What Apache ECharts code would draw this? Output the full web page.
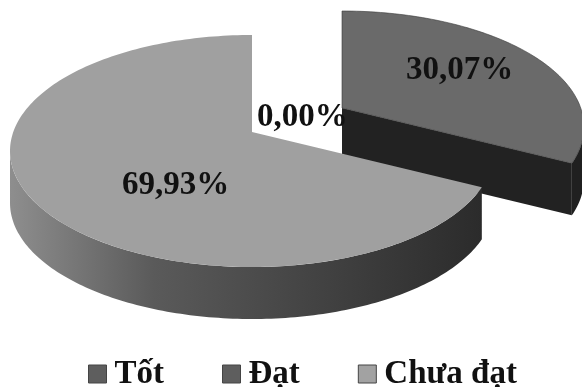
<!DOCTYPE html>
<html>
<head>
<meta charset="utf-8">
<script src="https://cdn.jsdelivr.net/npm/echarts@6/dist/echarts.min.js"></script>
<style>
  html, body { margin: 0; padding: 0; background: #fff; }
  #chart { width: 582px; height: 387px; }
</style>
</head>
<body>
<div id="chart"></div>
<script>
const categories = ['Tốt', 'Đạt', 'Chưa đạt'];
const values = [0, 30.07, 69.93];

const total = values.reduce((a, b) => a + b, 0);

// projected pie geometry (Excel-like 3D pie)
const CX = 252, CY = 151, RX = 242, RY = 116, APEX_DY = -19, DEPTH = 52;
const explode = [[0, 0], [90, -24], [0, 0]];
const topColors = ['#626262', '#6a6a6a', '#a0a0a0'];
const legendColors = ['#5e5e5e', '#5e5e5e', '#a2a2a2'];
const labelFrac = [[0, 0], [0.6, 0.76], [0.39, 0.61]];
const labelFont = 'bold 33px "Liberation Serif", "DejaVu Serif", serif';

function fmt(v) {
  return v.toFixed(2).replace('.', ',') + '%';
}

function sideFill(i) {
  if (i === 2) {
    return new echarts.graphic.LinearGradient(10, 0, 490, 0, [
      { offset: 0, color: '#8e8e8e' },
      { offset: 0.3, color: '#5a5a5a' },
      { offset: 1, color: '#2a2a2a' }
    ], true);
  }
  return '#202020';
}

function renderSlice(params, api) {
  const i = params.seriesIndex;
  const value = api.value(0);
  let before = 0;
  for (let k = 0; k < i; k++) before += values[k];
  const a0 = before / total * Math.PI * 2;
  const a1 = a0 + value / total * Math.PI * 2;
  const ox = explode[i][0], oy = explode[i][1];

  const rim = (t, dy) => [CX + ox + RX * Math.sin(t), CY + oy - RY * Math.cos(t) + dy];
  const apex = dy => [CX + ox, CY + APEX_DY + oy + dy];
  const arc = (from, to, dy) => {
    const pts = [];
    const n = Math.max(2, Math.ceil(Math.abs(to - from) / 0.02));
    for (let k = 0; k <= n; k++) pts.push(rim(from + (to - from) * k / n, dy));
    return pts;
  };

  const children = [];
  if (value > 0) {
    // radial cut faces that face the viewer
    [[a0, -1], [a1, 1]].forEach(([t, dir]) => {
      const phi = t + dir * Math.PI / 2;
      if (Math.cos(phi) < -1e-6) {
        children.push({
          type: 'polygon',
          shape: { points: [apex(0), rim(t, 0), rim(t, DEPTH), apex(DEPTH)] },
          style: { fill: '#222222' },
          z2: i * 10
        });
      }
    });
    // outer side, front half only
    const s0 = Math.max(a0, Math.PI / 2), s1 = Math.min(a1, Math.PI * 1.5);
    if (s1 > s0) {
      const pts = arc(s0, s1, 0).concat(arc(s1, s0, DEPTH));
      children.push({
        type: 'polygon',
        shape: { points: pts },
        style: { fill: sideFill(i) },
        z2: i * 10 + 1
      });
    }
    // top face
    children.push({
      type: 'polygon',
      shape: { points: [apex(0)].concat(arc(a0, a1, 0)) },
      style: { fill: topColors[i], stroke: i === 1 ? '#3a3a3a' : null, lineWidth: 0.6 },
      z2: i * 10 + 2
    });
    const mid = (a0 + a1) / 2;
    const p = rim(mid, 0), c = apex(0);
    children.push({
      type: 'text',
      style: {
        text: fmt(value),
        x: c[0] + (p[0] - c[0]) * labelFrac[i][0],
        y: c[1] + (p[1] - c[1]) * labelFrac[i][1],
        font: labelFont, fill: '#111', align: 'center', verticalAlign: 'middle'
      },
      z2: 100
    });
  } else {
    // empty slice: label beside the apex
    const c = apex(0);
    children.push({
      type: 'text',
      style: {
        text: fmt(value), x: c[0] + 5, y: c[1] - 15,
        font: labelFont, fill: '#111', align: 'left', verticalAlign: 'middle'
      },
      z2: 100
    });
  }
  return { type: 'group', children };
}

const chart = echarts.init(document.getElementById('chart'), null, { renderer: 'canvas' });

chart.setOption({
  animation: false,
  backgroundColor: '#fff',
  legend: {
    left: 83,
    top: 352,
    itemGap: 58,
    itemWidth: 18,
    itemHeight: 18,
    icon: 'rect',
    selectedMode: false,
    data: categories.map((name, i) => ({
      name,
      itemStyle: { color: legendColors[i], borderColor: '#444', borderWidth: 1 }
    })),
    textStyle: {
      fontFamily: '"Liberation Serif", serif',
      fontWeight: 'bold',
      fontSize: 33,
      lineHeight: 34,
      color: '#111',
      padding: [0, 0, 0, 3]
    }
  },
  series: categories.map((name, i) => ({
    type: 'custom',
    name,
    coordinateSystem: 'none',
    silent: true,
    itemStyle: { color: legendColors[i] },
    data: [[values[i]]],
    renderItem: renderSlice
  }))
});
</script>
</body>
</html>
